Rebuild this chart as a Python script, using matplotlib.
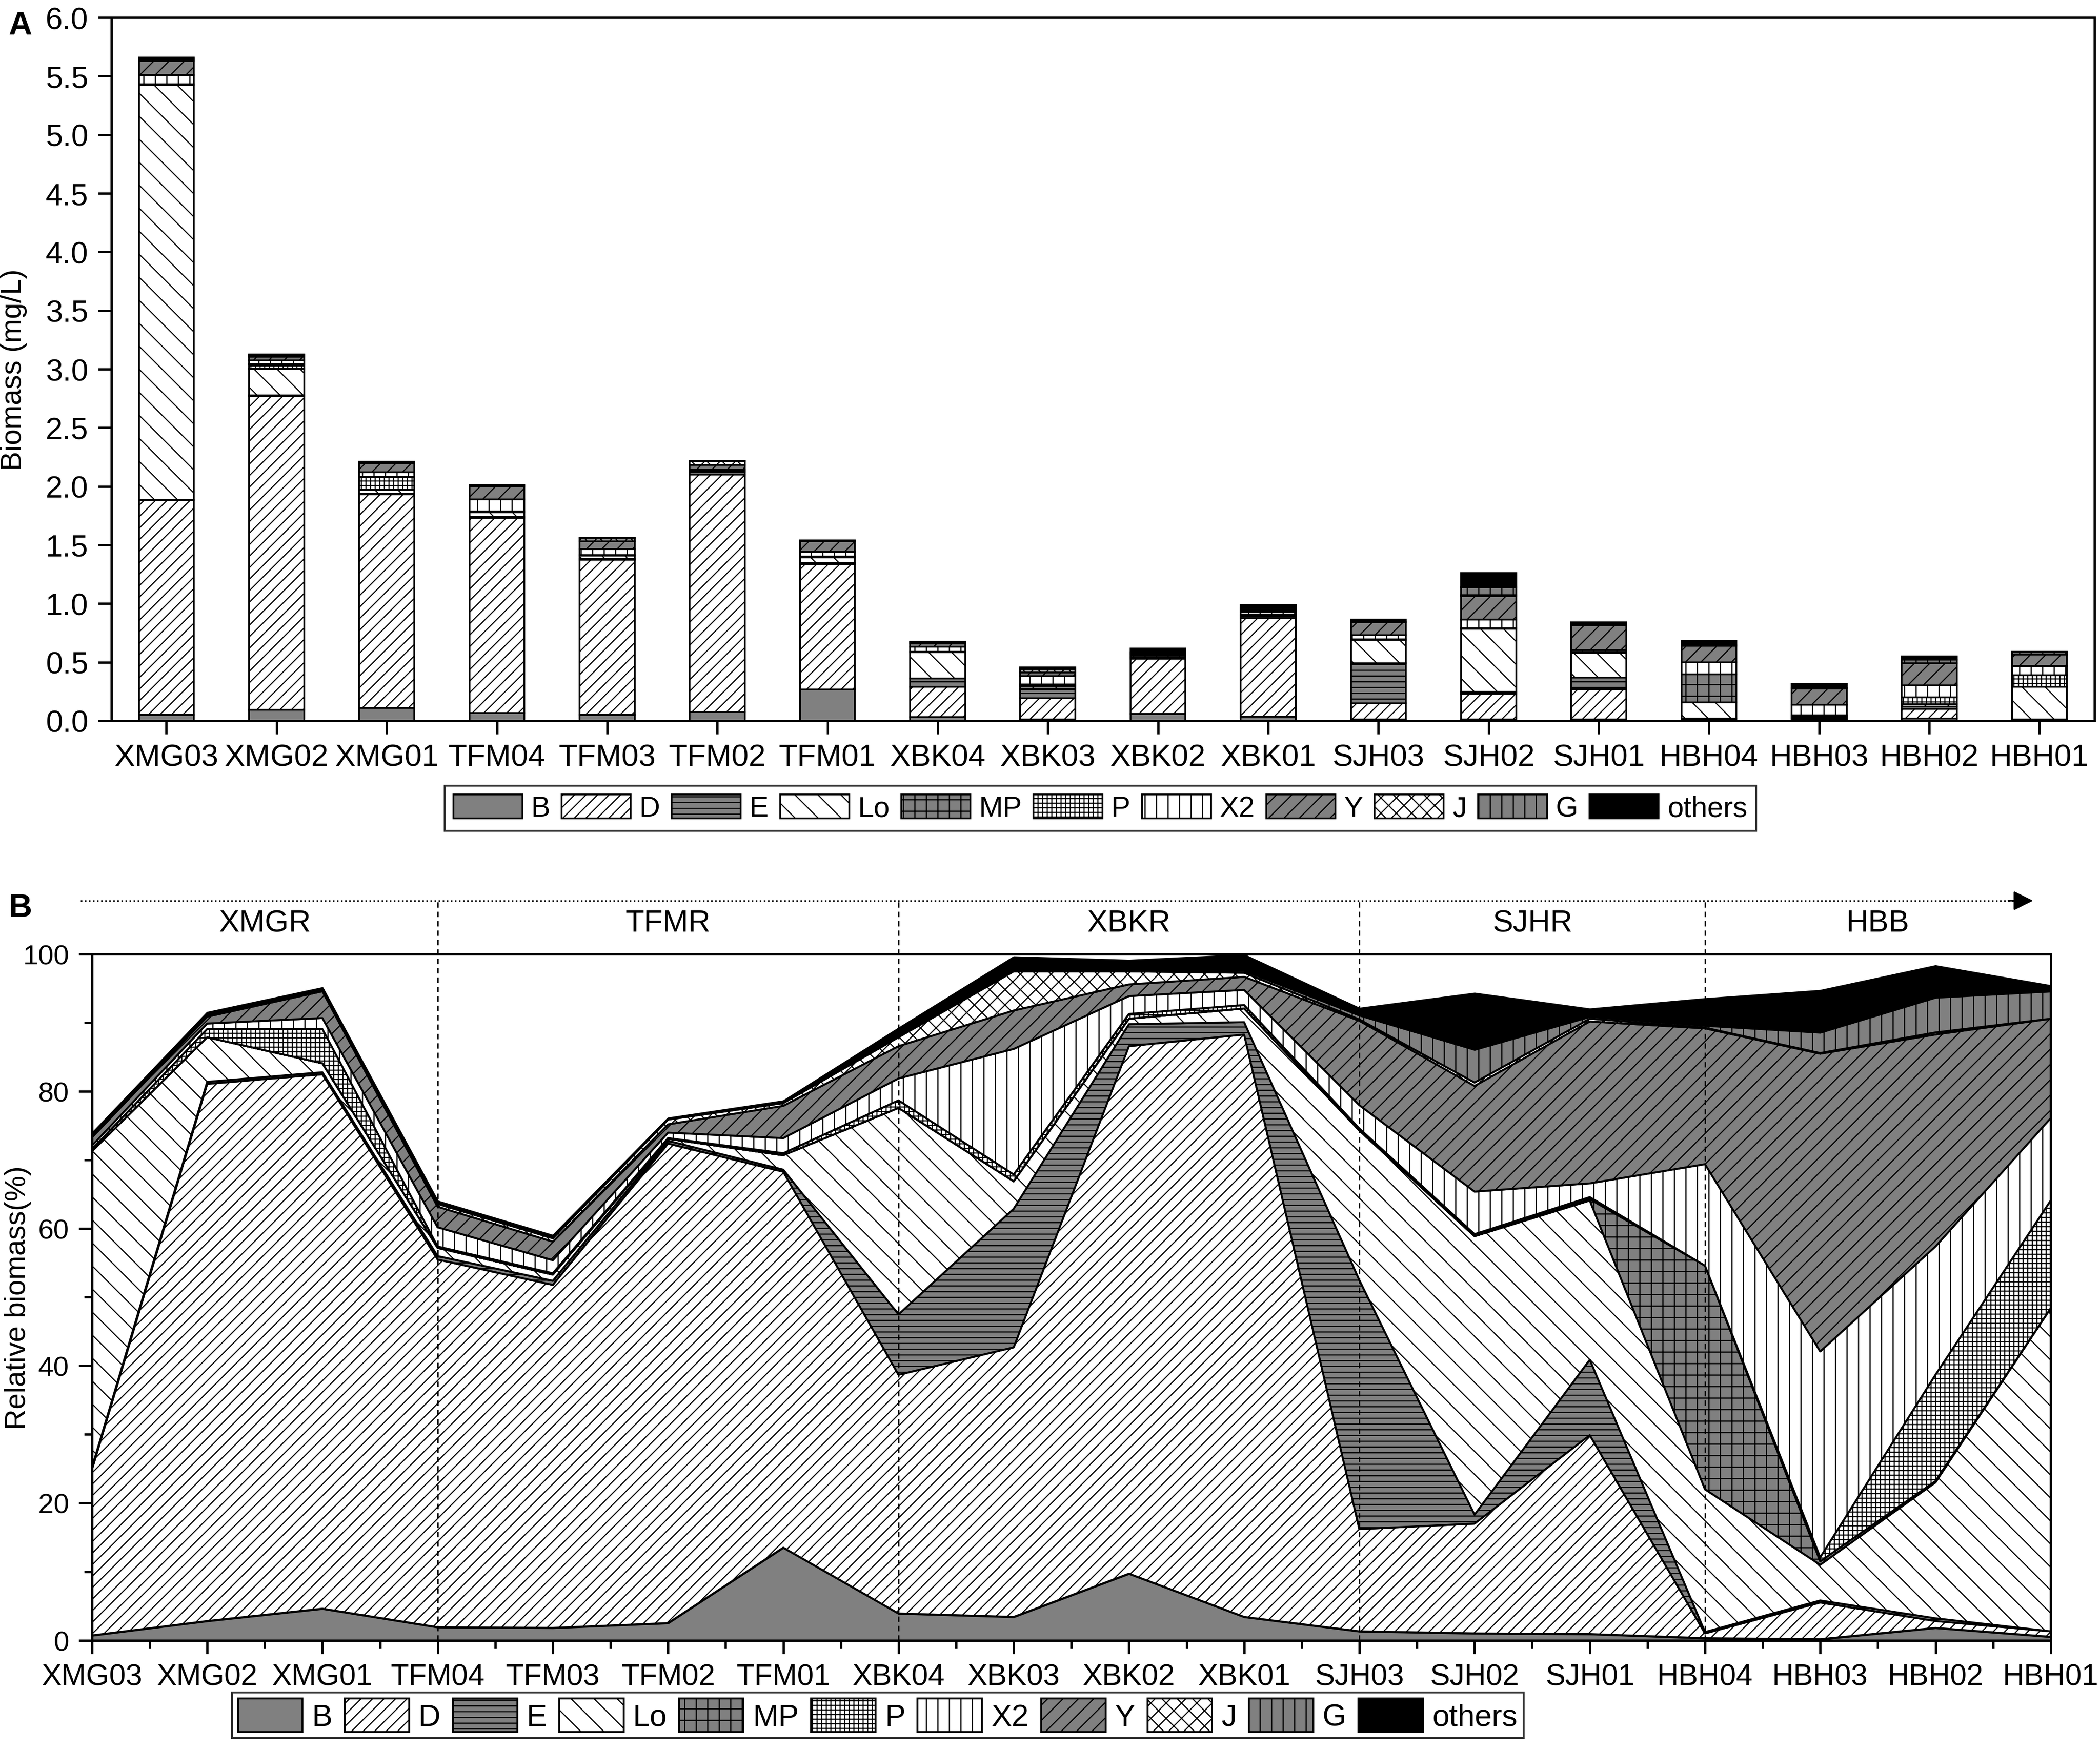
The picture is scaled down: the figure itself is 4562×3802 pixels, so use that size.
import matplotlib
matplotlib.use('Agg')
import matplotlib.pyplot as plt
import numpy as np

plt.rcParams['font.family'] = ['Liberation Sans', 'DejaVu Sans']
plt.rcParams['hatch.linewidth'] = 0.6
plt.rcParams['hatch.color'] = 'black'

sites = ['XMG03', 'XMG02', 'XMG01', 'TFM04', 'TFM03', 'TFM02', 'TFM01',
         'XBK04', 'XBK03', 'XBK02', 'XBK01', 'SJH03', 'SJH02', 'SJH01',
         'HBH04', 'HBH03', 'HBH02', 'HBH01']
groups = ['B', 'D', 'E', 'Lo', 'MP', 'P', 'X2', 'Y', 'J', 'G', 'others']

# panel A: biomass (mg/L)
a_B = [0.05, 0.095, 0.11, 0.066, 0.05, 0.074, 0.265, 0.03, 0.01, 0.06, 0.033, 0.01, 0.01, 0.01, 0.003, 0.005, 0.02, 0.005]
a_D = [1.83, 2.675, 1.82, 1.664, 1.323, 2.026, 1.07, 0.26, 0.18, 0.47, 0.842, 0.14, 0.22, 0.26, 0.005, 0.01, 0.08, 0.005]
a_E = [0.005, 0.005, 0.005, 0.01, 0.01, 0.02, 0.01, 0.07, 0.08, 0.01, 0.015, 0.34, 0.015, 0.1, 0.01, 0.01, 0.02, 0.0]
a_Lo = [3.54, 0.23, 0.035, 0.04, 0.025, 0.01, 0.05, 0.225, 0.02, 0.005, 0.01, 0.2, 0.54, 0.21, 0.14, 0.015, 0.02, 0.28]
a_MP = [0, 0, 0, 0, 0, 0, 0, 0, 0.01, 0, 0, 0, 0, 0, 0.24, 0, 0, 0]
a_P = [0.005, 0.04, 0.11, 0.005, 0.005, 0.005, 0.005, 0.005, 0.01, 0.0, 0.005, 0.005, 0.005, 0.01, 0.0, 0.005, 0.06, 0.1]
a_X2 = [0.08, 0.03, 0.04, 0.105, 0.05, 0.01, 0.04, 0.04, 0.07, 0.015, 0.02, 0.035, 0.075, 0.015, 0.1, 0.09, 0.1, 0.075]
a_Y = [0.12, 0.03, 0.08, 0.11, 0.07, 0.04, 0.09, 0.03, 0.03, 0.01, 0.01, 0.11, 0.2, 0.21, 0.14, 0.14, 0.19, 0.1]
a_J = [0.01, 0.01, 0.0, 0.005, 0.02, 0.03, 0.0, 0.005, 0.025, 0.005, 0.01, 0.0, 0.005, 0.0, 0.0, 0.0, 0.0, 0.0]
a_G = [0.01, 0.005, 0.005, 0.005, 0.005, 0.005, 0.005, 0.005, 0.01, 0.01, 0.015, 0.005, 0.07, 0.005, 0.005, 0.005, 0.03, 0.02]
a_others = [0.01, 0.005, 0.005, 0.0, 0.005, 0.0, 0.005, 0.005, 0.01, 0.03, 0.03, 0.02, 0.12, 0.02, 0.04, 0.035, 0.03, 0.005]

# panel B: relative biomass (%)
b_B = [0.7, 2.8, 4.6, 1.9, 1.8, 2.5, 13.5, 3.9, 3.4, 9.7, 3.4, 1.3, 1.0, 0.9, 0.3, 0.15, 1.8, 0.5]
b_D = [24.2, 78.3, 77.9, 53.6, 50.0, 69.9, 54.8, 34.8, 39.3, 76.9, 84.9, 14.9, 16.0, 29.0, 0.7, 5.35, 1.0, 0.8]
b_E = [0.3, 0.3, 0.3, 0.5, 0.6, 0.4, 0.3, 8.8, 20.2, 3.2, 1.8, 36.3, 1.3, 11.0, 0.2, 0.3, 0.4, 0.0]
b_Lo = [46.1, 6.5, 1.3, 1.2, 0.9, 0.3, 2.1, 30.1, 4.0, 0.8, 2.0, 21.8, 40.6, 23.2, 20.8, 5.2, 19.8, 47.1]
b_MP = [0, 0, 0, 0, 0, 0, 0, 0, 0, 0, 0, 0, 0, 0.2, 32.6, 0.5, 0.2, 0]
b_P = [0.3, 1.2, 5.0, 0.2, 0.2, 0.1, 0.3, 1.1, 1.0, 0.7, 0.5, 0.3, 0.3, 0.3, 0.0, 0.6, 15.5, 15.7]
b_X2 = [0.5, 0.8, 1.6, 2.8, 1.9, 0.8, 2.2, 3.2, 18.3, 2.6, 2.2, 3.4, 6.2, 2.0, 14.8, 30.0, 18.7, 12.0]
b_Y = [1.2, 1.0, 3.9, 3.0, 2.7, 1.2, 4.7, 4.7, 5.6, 1.7, 1.9, 12.3, 15.4, 23.6, 19.8, 43.4, 30.9, 14.5]
b_J = [0.2, 0.2, 0.2, 0.4, 0.5, 0.7, 0.4, 1.3, 5.7, 1.9, 0.6, 0.2, 0.5, 0.4, 0.1, 0.1, 0.3, 0.0]
b_G = [0.2, 0.2, 0.2, 0.2, 0.2, 0.1, 0.2, 0.3, 0.2, 0.2, 0.3, 0.6, 4.8, 0.3, 0.3, 3.0, 5.1, 4.0]
b_others = [0.2, 0.2, 0.1, 0.2, 0.2, 0.1, 0.1, 1.0, 1.9, 1.4, 2.3, 1.0, 8.2, 1.1, 3.9, 6.1, 4.6, 0.8]

regions = ['XMGR', 'TFMR', 'XBKR', 'SJHR', 'HBB']
region_bounds = [0, 3, 7, 11, 14, 17]

GRAY = '#808080'
# fill colour and hatch per group
styles = {
    'B': (GRAY, None),
    'D': ('white', '////'),
    'E': (GRAY, '----'),
    'Lo': ('white', '\\\\'),
    'MP': (GRAY, '++'),
    'P': ('white', '+++++'),
    'X2': ('white', '||'),
    'Y': (GRAY, '///'),
    'J': ('white', 'xxx'),
    'G': (GRAY, '||'),
    'others': ('black', None),
}

fig = plt.figure(figsize=(4562 / 300, 3803 / 300), dpi=300)

# ---------------- panel A ----------------
axA = fig.add_axes([0.053, 0.588, 0.9444, 0.4017])
a_data = [a_B, a_D, a_E, a_Lo, a_MP, a_P, a_X2, a_Y, a_J, a_G, a_others]
x = np.arange(len(sites))
bottom = np.zeros(len(sites))
handles = []
for name, vals in zip(groups, a_data):
    fc, hatch = styles[name]
    bars = axA.bar(x, vals, 0.5, bottom=bottom, color=fc, hatch=hatch,
                   edgecolor='black', linewidth=0.9, label=name)
    handles.append(bars)
    bottom = bottom + np.array(vals)

axA.set_xlim(-0.5, 17.5)
axA.set_ylim(0, 6.0)
yt = np.arange(0, 6.01, 0.5)
axA.set_yticks(yt)
axA.set_yticklabels([f'{v:.1f}' for v in yt])
axA.set_xticks(x)
axA.set_xticklabels(sites)
axA.tick_params(direction='out', length=7, width=1.2, pad=5, labelsize=16)
for s in axA.spines.values():
    s.set_linewidth(1.2)
axA.set_ylabel('Biomass (mg/L)', fontsize=15)
axA.yaxis.set_label_coords(-0.0425, 0.5)
fig.text(0.004, 0.985, 'A', fontsize=17, fontweight='bold', va='center')

legA = fig.legend(handles, groups, ncol=11, loc='center',
                  bbox_to_anchor=(0.524, 0.538), fontsize=15,
                  frameon=True, fancybox=False, edgecolor='black',
                  handlelength=2.4, handleheight=0.9, handletextpad=0.3,
                  columnspacing=0.4, borderpad=0.3, borderaxespad=0)
legA.get_frame().set_linewidth(1.0)

# ---------------- panel B ----------------
axB = fig.add_axes([0.0438, 0.0627, 0.9327, 0.3919])
b_data = [b_B, b_D, b_E, b_Lo, b_MP, b_P, b_X2, b_Y, b_J, b_G, b_others]
lower = np.zeros(len(sites))
handlesB = []
for name, vals in zip(groups, b_data):
    fc, hatch = styles[name]
    upper = lower + np.array(vals)
    poly = axB.fill_between(x, lower, upper, facecolor=fc, hatch=hatch,
                            edgecolor='black', linewidth=1.0, label=name)
    handlesB.append(poly)
    lower = upper

axB.set_xlim(0, 17)
axB.set_ylim(0, 100)
axB.set_xticks(x)
axB.set_xticklabels(sites)
axB.set_xticks(x[:-1] + 0.5, minor=True)
axB.set_yticks([0, 20, 40, 60, 80, 100])
axB.set_yticks([10, 30, 50, 70, 90], minor=True)
axB.tick_params(direction='out', length=7, width=1.2, pad=5)
axB.tick_params(axis='x', labelsize=15.5)
axB.tick_params(axis='y', labelsize=14.5)
axB.tick_params(which='minor', direction='out', length=4, width=1.2)
for s in axB.spines.values():
    s.set_linewidth(1.2)
axB.set_ylabel('Relative biomass(%)', fontsize=15)
axB.yaxis.set_label_coords(-0.031, 0.5)
fig.text(0.004, 0.481, 'B', fontsize=17, fontweight='bold', va='center')

# region separators, labels and arrow above panel B
for xb in region_bounds[1:-1]:
    axB.plot([xb, xb], [0, 107.8], color='black', linestyle=(0, (4, 3)),
             linewidth=0.7, clip_on=False, zorder=5)
for name, x0, x1 in zip(regions, region_bounds[:-1], region_bounds[1:]):
    axB.text((x0 + x1) / 2, 104.5, name, ha='center', va='center', fontsize=16)
axB.plot([-0.1, 16.75], [107.8, 107.8], color='black', linestyle=':',
         linewidth=0.8, clip_on=False)
axB.annotate('', xy=(16.88, 107.8), xytext=(16.6, 107.8), xycoords='data',
             arrowprops=dict(arrowstyle='-|>', color='black', lw=0.8,
                             mutation_scale=22),
             annotation_clip=False)

legB = fig.legend(handlesB, groups, ncol=11, loc='center',
                  bbox_to_anchor=(0.418, 0.0199), fontsize=16,
                  frameon=True, fancybox=False, edgecolor='black',
                  handlelength=2.1, handleheight=1.3, handletextpad=0.3,
                  columnspacing=0.4, borderpad=0.2, borderaxespad=0)
legB.get_frame().set_linewidth(1.0)

plt.savefig('out.png', dpi=300)
plt.close()
